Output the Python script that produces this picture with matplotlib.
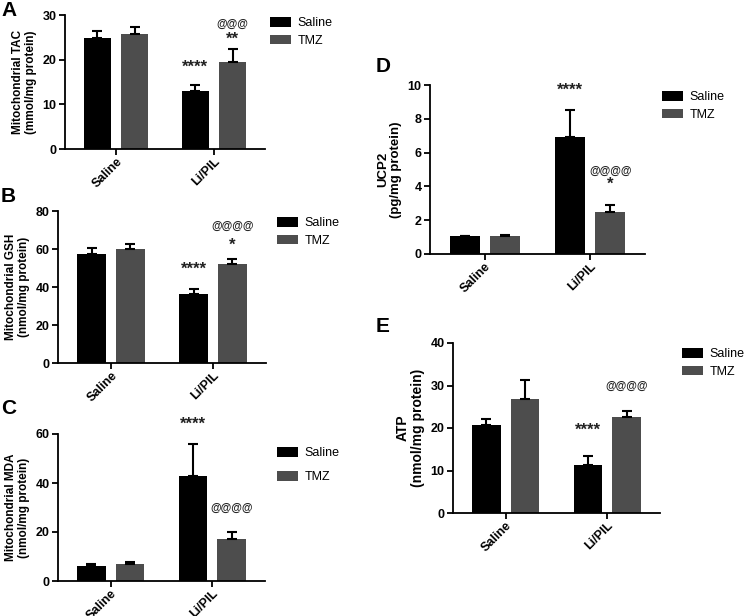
import matplotlib.pyplot as plt
import numpy as np

plt.rcParams['font.family'] = ['Liberation Sans', 'DejaVu Sans']

groups = ['Saline', 'Li/PIL']
series = ['Saline', 'TMZ']

# panel A - mitochondrial TAC
tac_saline = [24.8, 12.9]
tac_saline_err = [1.6, 1.5]
tac_tmz = [25.8, 19.4]
tac_tmz_err = [1.6, 3.0]

# panel B - mitochondrial GSH
gsh_saline = [57.5, 36.2]
gsh_saline_err = [3.2, 2.8]
gsh_tmz = [60.0, 52.0]
gsh_tmz_err = [2.5, 2.5]

# panel C - mitochondrial MDA
mda_saline = [6.3, 42.8]
mda_saline_err = [0.8, 13.3]
mda_tmz = [7.0, 17.2]
mda_tmz_err = [0.8, 2.8]

# panel D - UCP2
ucp_saline = [1.06, 6.95]
ucp_saline_err = [0.02, 1.55]
ucp_tmz = [1.05, 2.48]
ucp_tmz_err = [0.05, 0.4]

# panel E - ATP
atp_saline = [20.6, 11.3]
atp_saline_err = [1.6, 2.2]
atp_tmz = [26.9, 22.7]
atp_tmz_err = [4.3, 1.2]

W, H = 750, 616
fig = plt.figure(figsize=(W / 100, H / 100), dpi=100)

def rect(l, r, t, b):
    return [l / W, 1 - b / H, (r - l) / W, (b - t) / H]

BLACK = '#000000'
GREY = '#4d4d4d'
off = 0.19
bw = 0.28

def panel(r, sal, sal_e, tmz, tmz_e, ymax, step, ylabel, ylsize, letter, letter_xy,
          leg_xy, leg_space, notes):
    ax = fig.add_axes(rect(*r))
    x = np.arange(len(groups))
    ax.bar(x - off, sal, bw, color=BLACK, label=series[0], zorder=2)
    ax.bar(x + off, tmz, bw, color=GREY, label=series[1], zorder=2)
    ax.errorbar(x - off, sal, yerr=[np.zeros(2), sal_e], fmt='none', ecolor='black',
                elinewidth=1.5, capsize=3.6, capthick=1.5, zorder=3)
    ax.errorbar(x + off, tmz, yerr=[np.zeros(2), tmz_e], fmt='none', ecolor='black',
                elinewidth=1.5, capsize=3.6, capthick=1.5, zorder=3)
    ax.set_xlim(-0.52, 1.52)
    ax.set_ylim(0, ymax)
    ax.set_yticks(np.arange(0, ymax + step / 2, step))
    ax.set_xticks(x)
    ax.set_xticklabels(groups, rotation=45, ha='right', rotation_mode='anchor',
                       fontweight='bold', fontsize=9)
    for t in ax.get_yticklabels():
        t.set_fontweight('bold')
        t.set_fontsize(9)
    for s in ['top', 'right']:
        ax.spines[s].set_visible(False)
    for s in ['left', 'bottom']:
        ax.spines[s].set_linewidth(1.3)
    ax.tick_params(width=1.3, length=4, pad=2)
    ax.tick_params(axis='x', pad=1)
    ax.set_ylabel(ylabel, fontweight='bold', fontsize=ylsize, labelpad=4, linespacing=1.1)
    for gx, sx, yv, txt in notes:
        fs = 7.8 if txt.startswith('@') else 12
        ax.text(gx + sx * off, yv, txt, ha='center', va='center', fontsize=fs,
                fontweight='bold', color='#222222')
    fig.text(letter_xy[0] / W, 1 - letter_xy[1] / H, letter, fontsize=15,
             fontweight='bold', ha='left', va='center')
    ax.legend(loc='upper left', bbox_to_anchor=(leg_xy[0] / W, 1 - leg_xy[1] / H),
              bbox_transform=fig.transFigure, frameon=False, fontsize=9,
              handlelength=1.7, handleheight=0.8, handletextpad=0.5,
              labelspacing=leg_space, borderpad=0, borderaxespad=0)
    return ax

panel((65, 265, 15, 149), tac_saline, tac_saline_err, tac_tmz, tac_tmz_err, 30, 10,
      'Mitochondrial TAC\n(mmol/mg protein)', 8.5, 'A', (1, 10), (270, 17), 0.45,
      [(1, -1, 18.3, '****'), (1, 1, 24.5, '**'), (1, 1, 28.0, '@@@')])

panel((58, 266, 211, 363), gsh_saline, gsh_saline_err, gsh_tmz, gsh_tmz_err, 80, 20,
      'Mitochondrial GSH\n(nmol/mg protein)', 8.5, 'B', (1, 197), (277, 217), 0.45,
      [(1, -1, 49.5, '****'), (1, 1, 62.0, '*'), (1, 1, 72.0, '@@@@')])

panel((58, 265, 434, 581), mda_saline, mda_saline_err, mda_tmz, mda_tmz_err, 60, 20,
      'Mitochondrial MDA\n(nmol/mg protein)', 8.5, 'C', (1, 409), (277, 447), 0.95,
      [(1, -1, 64.0, '****'), (1, 1, 30.0, '@@@@')])

panel((430, 645, 85, 254), ucp_saline, ucp_saline_err, ucp_tmz, ucp_tmz_err, 10, 2,
      'UCP2\n(pg/mg protein)', 9.5, 'D', (376, 66), (662, 91), 0.45,
      [(1, -1, 9.7, '****'), (1, 1, 4.9, '@@@@'), (1, 1, 4.15, '*')])

panel((453, 660, 343, 513), atp_saline, atp_saline_err, atp_tmz, atp_tmz_err, 40, 10,
      'ATP\n(nmol/mg protein)', 10, 'E', (376, 326), (682, 348), 0.45,
      [(1, -1, 19.5, '****'), (1, 1, 30.0, '@@@@')])

fig.savefig('out.png', dpi=100)
